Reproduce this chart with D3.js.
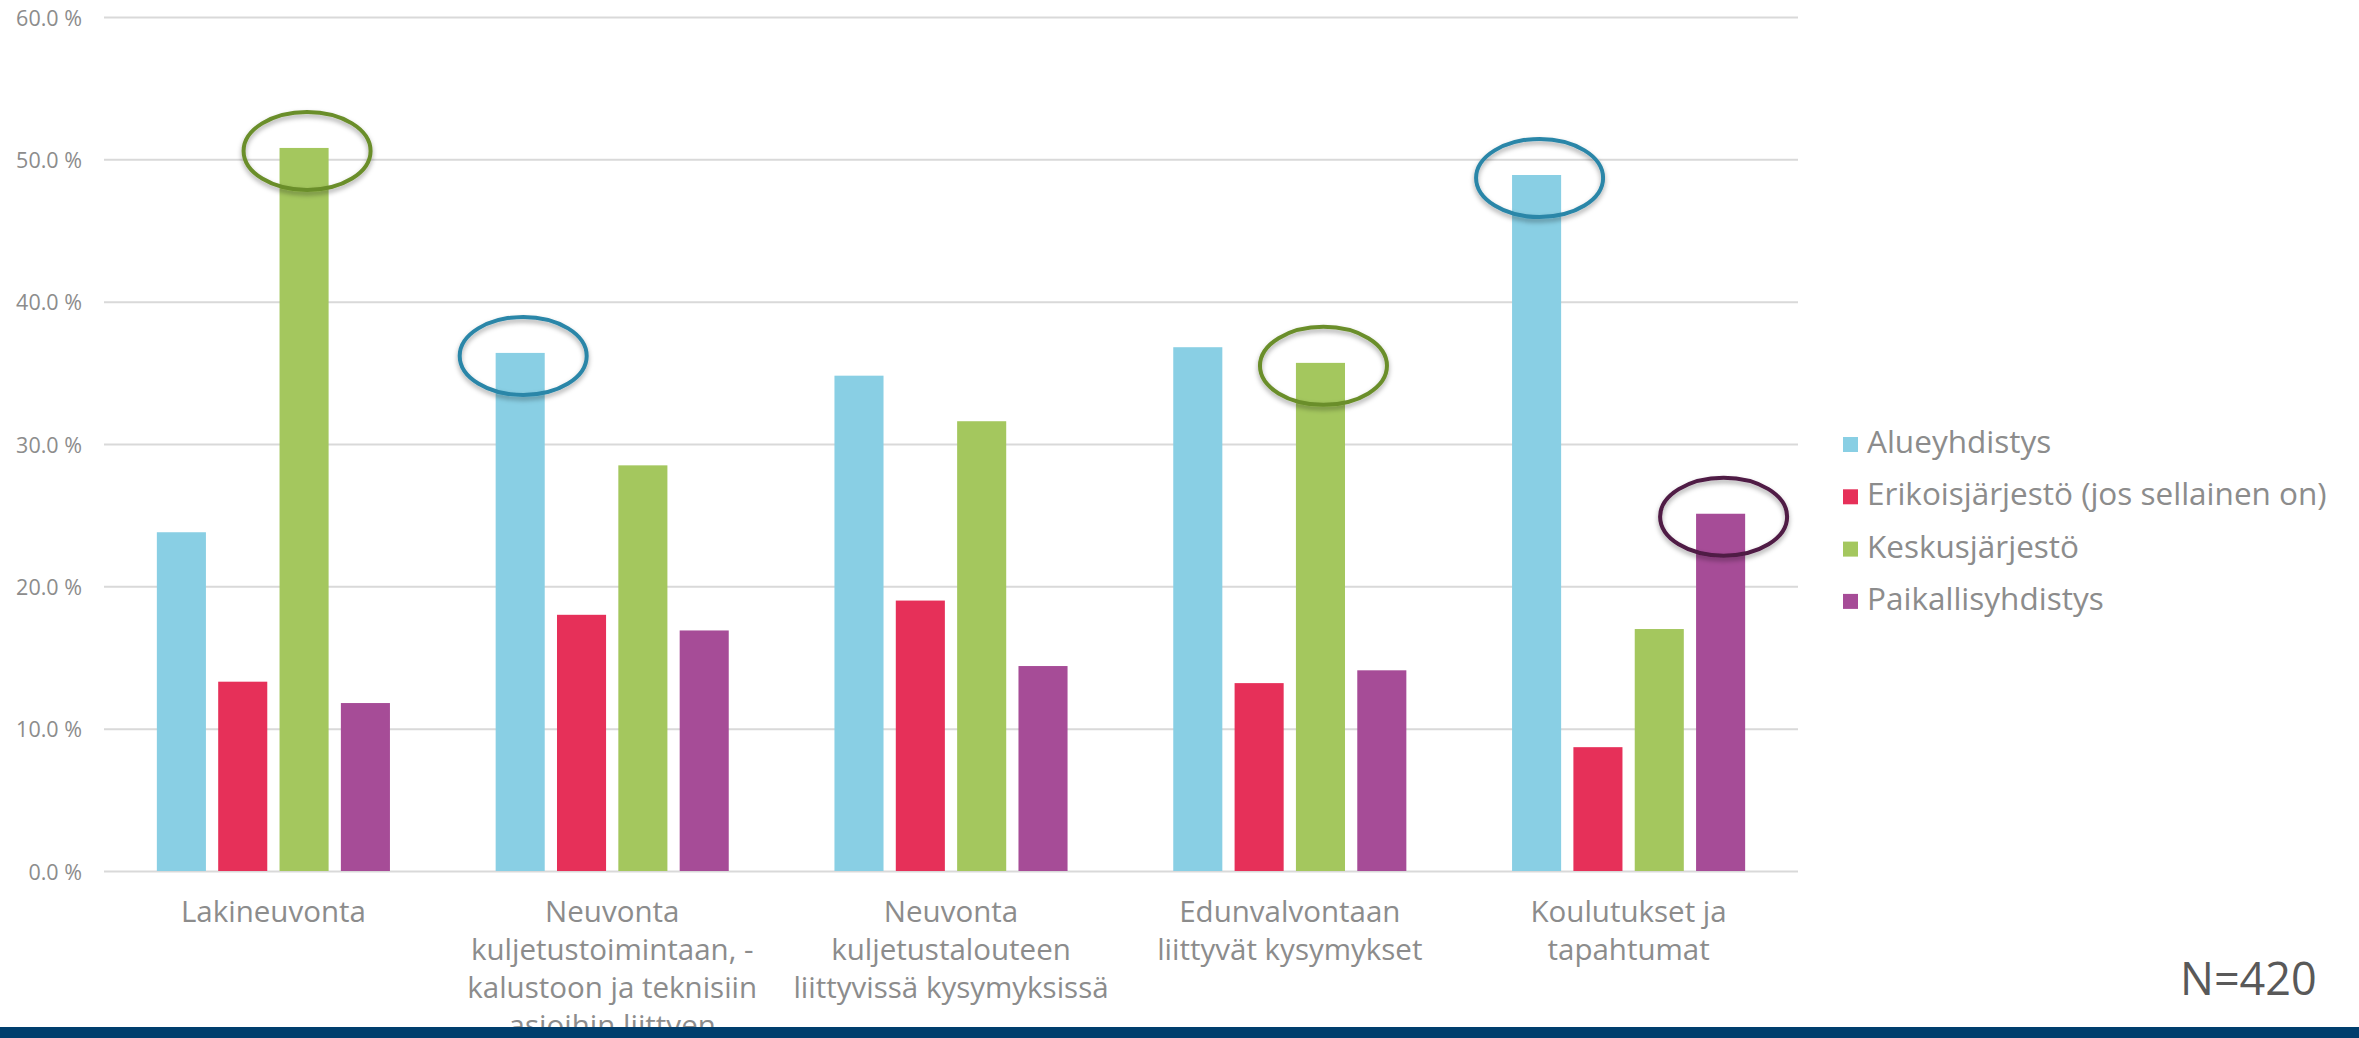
<!DOCTYPE html>
<html>
<head>
<meta charset="utf-8">
<script src="https://cdn.jsdelivr.net/npm/d3@7"></script>
<style>
  html, body { margin: 0; padding: 0; background: #ffffff; }
  svg { display: block; }
  text { font-family: "Open Sans", "Noto Sans", sans-serif; }
</style>
</head>
<body>
<svg id="chart" width="2359" height="1038"></svg>
<script>
// ---------- data ----------
const categories = [
  "Lakineuvonta",
  "Neuvonta kuljetustoimintaan, -kalustoon ja teknisiin asioihin liittyen",
  "Neuvonta kuljetustalouteen liittyvissä kysymyksissä",
  "Edunvalvontaan liittyvät kysymykset",
  "Koulutukset ja tapahtumat"
];
const categoryLabelLines = [
  ["Lakineuvonta"],
  ["Neuvonta", "kuljetustoimintaan, -", "kalustoon ja teknisiin", "asioihin liittyen"],
  ["Neuvonta", "kuljetustalouteen", "liittyvissä kysymyksissä"],
  ["Edunvalvontaan", "liittyvät kysymykset"],
  ["Koulutukset ja", "tapahtumat"]
];
const seriesNames = ["Alueyhdistys", "Erikoisjärjestö (jos sellainen on)", "Keskusjärjestö", "Paikallisyhdistys"];
const alueyhdistys      = [23.8, 36.4, 34.8, 36.8, 48.9];
const erikoisjarjesto   = [13.3, 18.0, 19.0, 13.2, 8.7];
const keskusjarjesto    = [50.8, 28.5, 31.6, 35.7, 17.0];
const paikallisyhdistys = [11.8, 16.9, 14.4, 14.1, 25.1];
const seriesValues = [alueyhdistys, erikoisjarjesto, keskusjarjesto, paikallisyhdistys];
const yTicks = [0, 10, 20, 30, 40, 50, 60];
const sampleNote = "N=420";
// highlighted bars (category index, series index)
const highlightCategory = [0, 1, 3, 4, 4];
const highlightSeries   = [2, 0, 2, 0, 3];

// ---------- styles ----------
const barColors = ["#89cfe4", "#e63059", "#a4c75e", "#a64c97"];
const ringColors = ["#2b86a8", "#e63059", "#6b8e2b", "#4f1a45"];
const gridColor = "#d9d9d9";
const textColor = "#8c8c8c";

const svg = d3.select("#chart");
const plotLeft = 104, plotRight = 1798, plotTop = 17, plotBottom = 871;

const defs = svg.append("defs");
const f = defs.append("filter").attr("id", "shadow")
  .attr("x", "-30%").attr("y", "-30%").attr("width", "160%").attr("height", "170%");
f.append("feDropShadow").attr("dx", 0).attr("dy", 3).attr("stdDeviation", 2.5)
  .attr("flood-color", "#000").attr("flood-opacity", 0.35);

// ---------- scales ----------
const x0 = d3.scaleBand().domain(categories).range([plotLeft, plotRight])
  .paddingInner(0.312).paddingOuter(0.156);
const x1 = d3.scaleBand().domain(seriesNames).range([0, x0.bandwidth()])
  .paddingInner(0.2).paddingOuter(0);
const y = d3.scaleLinear().domain([0, 60]).range([plotBottom, plotTop]);

// ---------- y axis with gridlines ----------
const yAxis = svg.append("g")
  .attr("transform", `translate(${plotLeft},0)`)
  .call(d3.axisLeft(y).tickValues(yTicks)
    .tickSize(-(plotRight - plotLeft)).tickPadding(22)
    .tickFormat(d => d3.format(".1f")(d) + " %"));
yAxis.select(".domain").remove();
yAxis.selectAll(".tick line").attr("stroke", gridColor).attr("stroke-width", 2);
yAxis.selectAll(".tick text").attr("fill", textColor)
  .style("font-size", "21.5px").attr("dy", "0.38em");

// ---------- bars ----------
const rows = categories.map((c, i) => ({ cat: c, vals: seriesNames.map((s, j) => ({ s, j, v: seriesValues[j][i] })) }));
const groups = svg.append("g").selectAll("g").data(rows).join("g")
  .attr("transform", d => `translate(${x0(d.cat)},0)`);
groups.selectAll("rect").data(d => d.vals).join("rect")
  .attr("x", d => x1(d.s))
  .attr("width", x1.bandwidth())
  .attr("y", d => y(d.v))
  .attr("height", d => y(0) - y(d.v))
  .attr("fill", d => barColors[d.j]);

// ---------- highlight ellipses ----------
const hl = highlightCategory.map((c, k) => ({ c, s: highlightSeries[k] }));
svg.append("g").selectAll("ellipse").data(hl).join("ellipse")
  .attr("cx", d => x0(categories[d.c]) + x1(seriesNames[d.s]) + x1.bandwidth() / 2 + 3)
  .attr("cy", d => y(seriesValues[d.s][d.c]) + 3)
  .attr("rx", 63.5)
  .attr("ry", 39)
  .attr("fill", "none")
  .attr("stroke", d => ringColors[d.s])
  .attr("stroke-width", 4)
  .attr("filter", "url(#shadow)");

// ---------- x axis labels ----------
const xAxis = svg.append("g")
  .attr("transform", `translate(0,${plotBottom})`)
  .call(d3.axisBottom(x0).tickSize(0).tickPadding(0));
xAxis.select(".domain").remove();
xAxis.selectAll(".tick text").each(function(d, i) {
  const t = d3.select(this).text(null).attr("fill", textColor)
    .style("font-size", "29.5px").attr("y", 51).attr("dy", 0);
  categoryLabelLines[i].forEach((line, k) => {
    t.append("tspan").attr("x", 0).attr("y", 51 + k * 38).text(line);
  });
});

// ---------- legend ----------
const legend = svg.append("g").attr("transform", "translate(1843,0)");
const li = legend.selectAll("g").data(seriesNames).join("g")
  .attr("transform", (d, i) => `translate(0,${453 + i * 52.3})`);
li.append("rect").attr("x", 0).attr("y", -16).attr("width", 15).attr("height", 15)
  .attr("fill", (d, i) => barColors[i]);
li.append("text").attr("x", 24).attr("y", 0).text(d => d)
  .attr("fill", textColor).style("font-size", "31.5px");

// ---------- N note ----------
svg.append("text").attr("x", 2180).attr("y", 995).text(sampleNote)
  .attr("fill", "#595959").style("font-size", "45px");

// ---------- bottom band ----------
svg.append("rect").attr("x", 0).attr("y", 1027).attr("width", 2359).attr("height", 11)
  .attr("fill", "#003e6d");
</script>
</body>
</html>
